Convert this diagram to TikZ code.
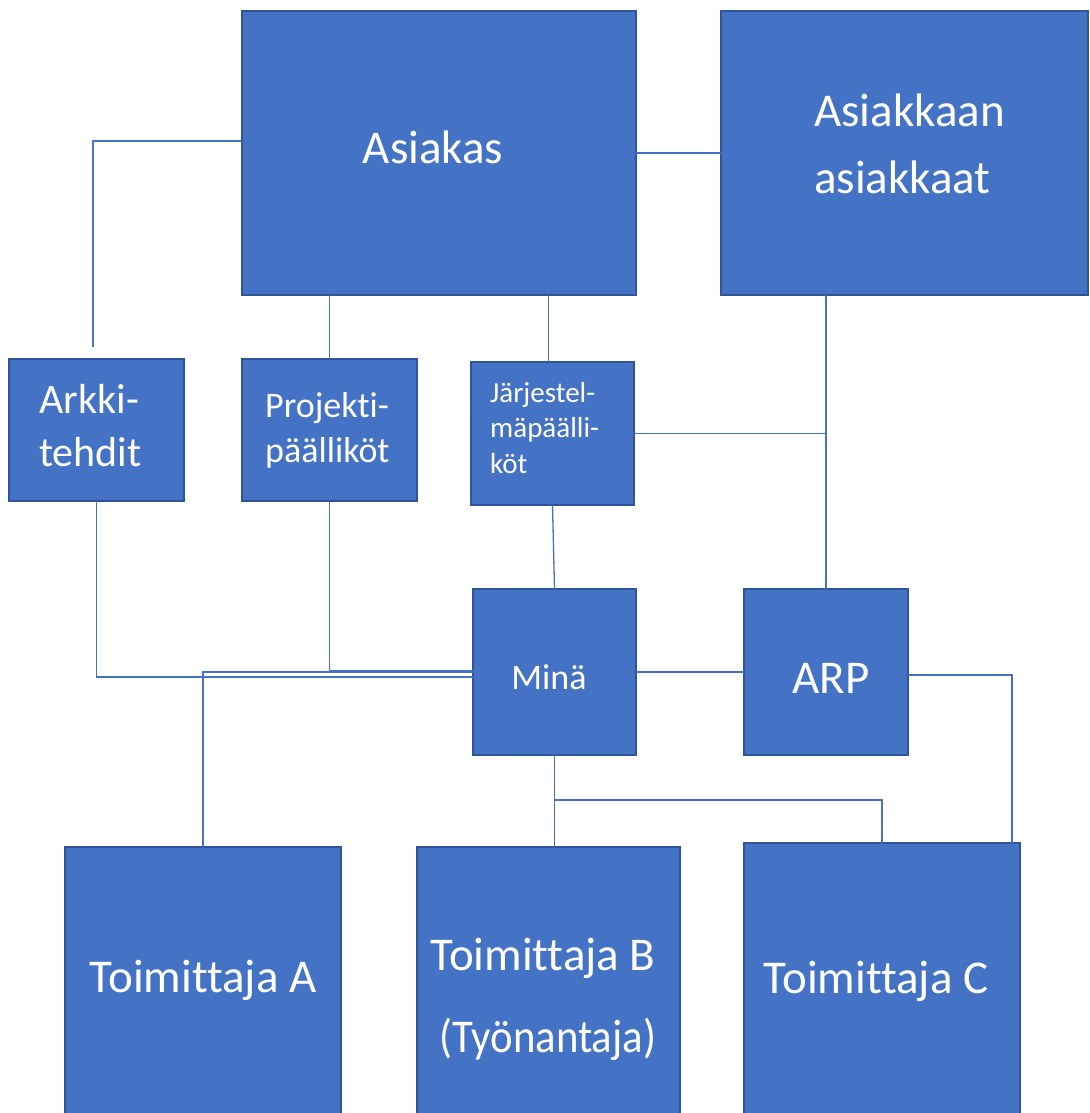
\documentclass[tikz,border=0pt]{standalone}
\usepackage{fontspec}
\setmainfont{Carlito}[Ligatures=NoCommon]
\definecolor{boxfill}{HTML}{4472C4}
\definecolor{boxline}{HTML}{2F5597}
\definecolor{connblue}{HTML}{4472C4}
\begin{document}
\begin{tikzpicture}[x=1pt,y=-1pt,
  box/.style={draw=boxline, fill=boxfill, line width=2.5pt, inner sep=0pt, outer sep=0pt},
  conn/.style={draw=connblue, line width=1.3pt},
  lbl/.style={text=white, inner sep=0pt, anchor=base},
  lblw/.style={text=white, inner sep=0pt, anchor=base west},
  fxl/.style={font=\fontsize{47}{56}\selectfont},
  fl/.style={font=\fontsize{42}{50}\selectfont},
  fm/.style={font=\fontsize{36}{44}\selectfont},
  fs/.style={font=\fontsize{29}{35}\selectfont}]
\useasboundingbox (0,0) rectangle (1089,1113);
\fill[white] (0,0) rectangle (1089,1113);

% boxes
\node[box, minimum width=394pt, minimum height=284pt] (asiakas) at (439,153) {};
\node[box, minimum width=367pt, minimum height=284pt] (asiakkaan) at (904.5,153) {};
\node[box, minimum width=175pt, minimum height=142pt] (arkki) at (96.5,430) {};
\node[box, minimum width=175pt, minimum height=142pt] (projekti) at (329.5,430) {};
\node[box, minimum width=163pt, minimum height=143pt] (jarj) at (552.5,433.5) {};
\node[box, minimum width=163pt, minimum height=166pt] (mina) at (554.5,672) {};
\node[box, minimum width=164pt, minimum height=166pt] (arp) at (826,672) {};
\node[box, minimum width=276pt, minimum height=273pt] (toimA) at (203,983.5) {};
\node[box, minimum width=263pt, minimum height=273pt] (toimB) at (548.5,983.5) {};
\node[box, minimum width=276pt, minimum height=277pt] (toimC) at (882,981.5) {};

% connectors
\coordinate (arkkiTop) at (93,347);
\draw[conn] ([yshift=12pt]asiakas.west) -| (arkkiTop);
\draw[conn] (projekti.north |- asiakas.south) -- (projekti.north);
\draw[conn] ([xshift=-4pt]jarj.north |- asiakas.south) -- ([xshift=-4pt]jarj.north);
\draw[conn] (asiakas.east) -- (asiakkaan.west);
\draw[conn] (arp.north |- asiakkaan.south) -- (arp.north);
\draw[conn] (jarj.east) -- (jarj.east -| arp.north);
\draw[conn] (jarj.south) -- (mina.north);
\draw[conn] (arkki.south) |- ([yshift=-5pt]mina.west);
\draw[conn] (projekti.south) |- ([yshift=1pt]mina.west);
\draw[conn] (toimA.north) |- (mina.west);
\draw[conn] (mina.east) -- (arp.west);
\draw[conn] (mina.south) -- (mina.south |- toimB.north);
\coordinate (branch) at (554.5,800);
\draw[conn] (branch) -| (toimC.north);
\draw[conn] ([yshift=-3pt]arp.east) -| ([xshift=130pt]toimC.north);

% labels
\node[lbl, fxl] (tAsiakas) at (433,163) {Asiakas};
\node[lblw, fxl] (tAsk1) at (814,127) {Asiakkaan};
\node[lblw, fxl] (tAsk2) at (814,193) {asiakkaat};
\node[lblw, fl] (tArk1) at (39,413) {Arkki-};
\node[lblw, fl] (tArk2) at (39,466) {tehdit};
\node[lblw, fm] (tPro1) at (265,417) {Projekti-};
\node[lblw, fm] (tPro2) at (265,462) {päälliköt};
\node[lblw, fs] (tJar1) at (490,402) {Järjestel-};
\node[lblw, fs] (tJar2) at (490,437) {mäpäälli-};
\node[lblw, fs] (tJar3) at (490,473) {köt};
\node[lbl, fm] (tMina) at (549,689) {Minä};
\node[lbl, fxl] (tArp) at (831,693) {ARP};
\node[lbl, fxl] (tToimA) at (203,992) {Toimittaja A};
\node[lbl, fxl] (tToimB) at (543,970) {Toimittaja B};
\node[lbl, fxl] (tTyo) at (548,1052) {\scalebox{0.91}[1]{(Työnantaja)}};
\node[lbl, fxl] (tToimC) at (876,993) {Toimittaja C};
\end{tikzpicture}
\end{document}
